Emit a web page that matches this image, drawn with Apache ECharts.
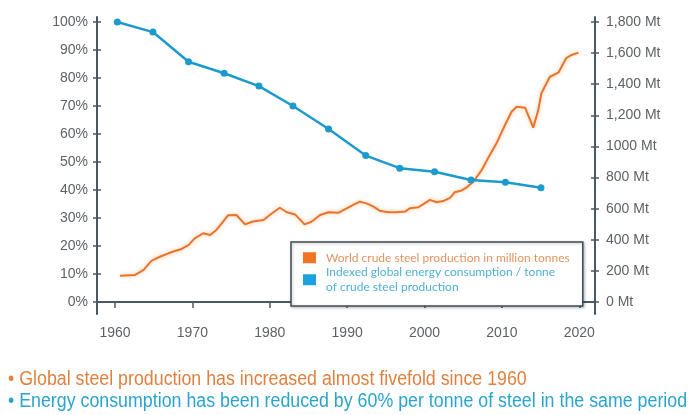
<!DOCTYPE html>
<html lang="en">
<head>
    <meta charset="UTF-8">
    <title>Steel production and energy</title>
    <script src="https://cdn.jsdelivr.net/npm/echarts@6/dist/echarts.min.js"></script>
    <style>
        html, body { margin: 0; padding: 0; background: #fff; }
    </style>
</head>
<body>
    <div id="main" style="width: 695px;height:415px;"></div>

    <script type="text/javascript">
        // tick values
        const xTicks = [1960, 1970, 1980, 1990, 2000, 2010, 2020];
        const leftTicks = [0, 10, 20, 30, 40, 50, 60, 70, 80, 90, 100];
        const rightTicks = [0, 200, 400, 600, 800, 1000, 1200, 1400, 1600, 1800];
        const rightLabels = ['0 Mt', '200 Mt', '400 Mt', '600 Mt', '800 Mt', '1000 Mt', '1,200 Mt', '1,400 Mt', '1,600 Mt', '1,800 Mt'];

        // indexed energy consumption per tonne (%)
        const energyYears = [1960.3, 1964.9, 1969.5, 1974.1, 1978.6, 1983.0, 1987.6, 1992.4, 1996.8, 2001.3, 2006.0, 2010.45, 2015.05];
        const energyIndex = [100, 96.4, 85.8, 81.7, 77.1, 70.0, 61.8, 52.3, 47.8, 46.5, 43.6, 42.8, 40.8];

        // world crude steel production (Mt)
        const steelYears = [1960.65, 1962.6, 1963.7, 1964.7, 1965.8, 1966.9, 1967.75, 1968.6, 1969.5, 1970.3,
            1971.4, 1972.3, 1973.1, 1973.8, 1974.6, 1975.7, 1976.8, 1977.7, 1978.5, 1979.2,
            1980.0, 1981.3, 1982.2, 1983.3, 1984.5, 1985.4, 1986.5, 1987.6, 1988.9, 1989.7,
            1990.8, 1991.65, 1992.5, 1993.4, 1994.2, 1995.3, 1996.4, 1997.5, 1998.1, 1999.2,
            1999.8, 2000.7, 2001.6, 2002.4, 2003.3, 2003.9, 2004.8, 2005.4, 2006.3, 2007.4,
            2008.2, 2009.3, 2010.4, 2011.25, 2011.9, 2013.0, 2014.05, 2014.7, 2015.1, 2016.2,
            2017.3, 2018.3, 2019.0, 2019.9];
        const steelMt = [169, 174, 206, 264, 291, 313, 328, 341, 366, 409,
            442, 431, 463, 506, 557, 559, 499, 516, 523, 527,
            559, 606, 577, 562, 499, 516, 559, 577, 574, 596,
            624, 645, 634, 613, 587, 577, 577, 581, 602, 609,
            628, 656, 641, 649, 669, 705, 717, 735, 773, 849,
            924, 1020, 1138, 1223, 1255, 1249, 1121, 1234, 1342, 1448,
            1474, 1567, 1588, 1603];

        const steelName = 'World crude steel production in million tonnes';
        const energyName = 'Indexed global energy consumption / tonne of crude steel production';

        const axisColor = '#4a5863';
        const labelColor = '#5d6267';
        const orange = '#e8742f';
        const blue = '#1b9acb';

        var myChart = echarts.init(document.getElementById('main'));

        function yAxisBase(min, max, ticks, position, inside) {
            return {
                type: 'value',
                position: position,
                min: min,
                max: max,
                splitLine: { show: false },
                axisLine: { show: !inside, lineStyle: { color: axisColor, width: 2 } },
                axisTick: {
                    show: true,
                    inside: inside,
                    length: 4,
                    customValues: ticks,
                    lineStyle: { color: axisColor, width: 1.5 }
                },
                axisLabel: { show: false }
            };
        }

        const yLeft = yAxisBase(-4.2857, 101.786, leftTicks, 'left', false);
        yLeft.axisLabel = {
            show: true,
            customValues: leftTicks,
            margin: 9,
            color: labelColor,
            fontFamily: 'Liberation Sans',
            fontSize: 14,
            formatter: v => v + '%'
        };
        const yRight = yAxisBase(-77.14, 1832.1, rightTicks, 'right', false);
        yRight.axisLabel = {
            show: true,
            customValues: rightTicks,
            margin: 11,
            color: labelColor,
            fontFamily: 'Liberation Sans',
            fontSize: 14,
            formatter: v => rightLabels[rightTicks.indexOf(v)]
        };

        const option = {
            animation: false,
            grid: { left: 97, right: 100, top: 17, bottom: 101, outerBoundsMode: 'none' },
            xAxis: {
                type: 'value',
                min: 1957.674,
                max: 2022.03,
                splitLine: { show: false },
                axisLine: { lineStyle: { color: axisColor, width: 2 } },
                axisTick: { length: 6, customValues: xTicks, lineStyle: { color: axisColor, width: 1.5 } },
                axisLabel: {
                    customValues: xTicks,
                    margin: 12,
                    color: labelColor,
                    fontFamily: 'Liberation Sans',
                    fontSize: 14,
                    formatter: v => String(v)
                }
            },
            yAxis: [
                yLeft,
                yRight,
                yAxisBase(-4.2857, 101.786, leftTicks, 'left', true),
                yAxisBase(-77.14, 1832.1, rightTicks, 'right', true)
            ],
            legend: {
                orient: 'vertical',
                left: 291,
                top: 242,
                padding: [8, 13, 3, 12],
                itemGap: -9,
                itemWidth: 13,
                itemHeight: 11,
                icon: 'rect',
                borderColor: '#3f4c57',
                borderWidth: 1.5,
                backgroundColor: '#fff',
                shadowColor: 'rgba(0,0,0,0.25)',
                shadowBlur: 3,
                shadowOffsetX: 1,
                shadowOffsetY: 1,
                textStyle: { fontFamily: 'Lato', fontSize: 12, lineHeight: 15.5 },
                formatter: function (name) {
                    return name === energyName
                        ? 'Indexed global energy consumption / tonne\nof crude steel production'
                        : name;
                },
                data: [
                    {
                        name: steelName,
                        itemStyle: { color: '#f07222' },
                        textStyle: { color: '#e29461', padding: [0, 0, 0, 5] }
                    },
                    {
                        name: energyName,
                        itemStyle: { color: '#1aa2df' },
                        textStyle: { color: '#4fb0d4', padding: [15.5, 0, 0, 5] }
                    }
                ]
            },
            graphic: [
                {
                    type: 'text',
                    left: 8,
                    top: 369,
                    scaleX: 0.89,
                    style: {
                        text: '\u2022 Global steel production has increased almost fivefold since 1960',
                        fill: '#e0813f',
                        font: '20px "Liberation Sans"'
                    }
                },
                {
                    type: 'text',
                    left: 8,
                    top: 391,
                    scaleX: 0.89,
                    style: {
                        text: '\u2022 Energy consumption has been reduced by 60% per tonne of steel in the same period',
                        fill: '#2aa4cf',
                        font: '20px "Liberation Sans"'
                    }
                }
            ],
            series: [
                {
                    name: steelName,
                    type: 'line',
                    yAxisIndex: 1,
                    showSymbol: false,
                    symbol: 'none',
                    lineStyle: {
                        color: orange,
                        width: 2,
                        shadowColor: 'rgba(250,170,100,0.7)',
                        shadowBlur: 4
                    },
                    itemStyle: { color: '#f07222' },
                    data: steelYears.map((y, i) => [y, steelMt[i]])
                },
                {
                    name: energyName,
                    type: 'line',
                    yAxisIndex: 0,
                    symbol: 'circle',
                    symbolSize: 7,
                    lineStyle: { color: blue, width: 2.5 },
                    itemStyle: { color: blue },
                    data: energyYears.map((y, i) => [y, energyIndex[i]])
                }
            ]
        };

        myChart.setOption(option);
    </script>
</body>
</html>
